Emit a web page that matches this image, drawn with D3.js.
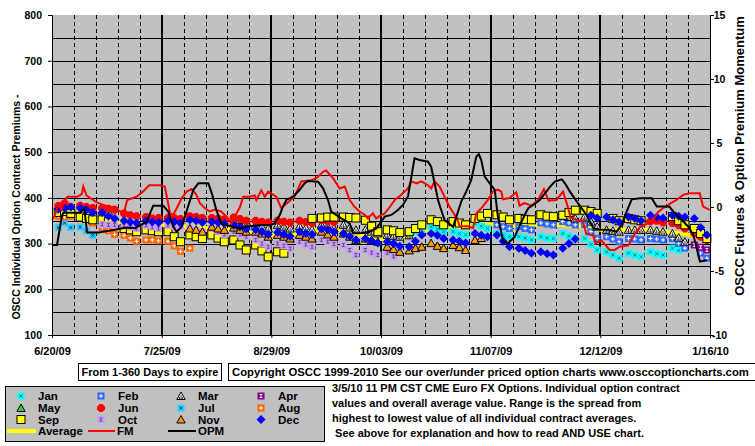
<!DOCTYPE html>
<html><head><meta charset="utf-8">
<script src="https://cdn.jsdelivr.net/npm/d3@7"></script>
<style>
body{margin:0;background:#fff}
svg{display:block}
text{font-family:"Liberation Sans",Arial,sans-serif;font-weight:bold;fill:#000}
</style></head>
<body><svg id="chart" width="755" height="446"></svg>
<script>
const N = null;
// x categories: days since 6/20/09, tick labels every 35 days
const xTickDays = [0, 35, 70, 105, 140, 175, 210];
const xTickLabels = ["6/20/09", "7/25/09", "8/29/09", "10/03/09", "11/07/09", "12/12/09", "1/16/10"];
const leftTicks = [100, 200, 300, 400, 500, 600, 700, 800];
const rightTicks = [-10, -5, 0, 5, 10, 15];
const legendNames = ["Jan", "Feb", "Mar", "Apr", "May", "Jun", "Jul", "Aug", "Sep", "Oct", "Nov", "Dec"];

// contract series: values sampled Mon/Wed/Fri of each week, starting at week index given
const janStart = 16;
const janValues = [318,325,330, 337,332,326, 326,322,319, 344,338,333, 322,318,315, 315,312,308,
  315,312,311, 322,316,311, 311,298,286, 282,275,268, 279,275,271, 282,278,275, 290,285];
const febStart = 20;
const febValues = [341,337,333, 337,333,330, 345,343,341, 348,345,341, 341,326,311, 315,310,304,
  311,310,308, 311,310,308, 311,300,290, N,279,268];
const marStart = 2;
const marValues = [372,370,N, N,N,N, N,N,N, N,N,N, N,N,N, N,N,N,
  355,352,348, 341,337,333, 341,337,333, 338,334,330, 341,337,333, 341,335,330, 330,326,322, 319,317,315, 318,N,N,
  N,N,N, N,N,N, N,N,N, N,N,N, N,N,N, N,N,N,
  362,358,355, 359,348,337, 330,328,326, 330,330,330, 330,328,326, 322,313,304];
const aprStart = 29;
const aprValues = [297,292,286];
const mayStart = 0;
const mayValues = [];
const junStart = 0;
const junValues = [382,388,380, 383,380,378, 378,376,374, 366,362,360, 358,355,356, 356,356,354, 360,358,356,
  356,355,353, 357,354,350, 350,348,346, 350,348,346, 350,347,345, 351,349,347,
  N,N,N, N,N,N, N,N,N, N,N,N, N,N,N, N,N,N, N,N,N, N,N,N, N,N,N, N,N,N, N,N,N, N,N,N, N,N,N,
  352,354,348, 349,350,346, 345,340,333, 322,315,308];
const julStart = 0;
const julValues = [335,345,335, 336,328,318];
const augStart = 0;
const augValues = [360,358,360, 358,352,345, 335,328,320, 318,312,305, 308,308,306, 305,295,283, 290];
const sepStart = 0;
const sepValues = [368,370,366, 358,355,352, 352,348,N, 333,330,326, 330,328,326, 326,315,304, 319,315,311,
  319,312,304, 308,297,286, 297,284,271, 282,279,N, N,N,355, 356,358,358, 358,357,356, 351,338,326,
  330,328,324, 326,333,341, 352,348,341, 348,345,341, 355,360,366, 363,358,352, 355,353,352, 363,360,359,
  362,368,373, 373,370,366, N,355,350, 355,352,350, N,N,N, 359,350,341, 333,322,311];
const octStart = 2;
const octValues = [342,341,341, 340,336,333, 340,336,333, 340,338,337, 333,330,326, 333,326,320, 326,320,315,
  308,300,293, 300,295,289, 304,298,293, 308,304,299, 297,286,275, 286,280,275, 280,272];
const novStart = 6;
const novValues = [333,330,326, 337,333,330, 335,330,326, 326,322,315, 319,315,311, 319,315,311, 326,320,315,
  322,315,308, 311,308,304, 293,288,282, 285,290,293, 301,295,290, 297,292,286, 308,312];
const decStart = 0;
const decValues = [375,378,380, 378,374,368, 368,360,355, 350,347,345, 350,348,346, 350,348,345, 352,350,346,
  348,346,344, 340,336,332, 330,326,320, 324,320,316, 326,322,320, 332,330,326, 322,316,308, 311,306,301,
  304,300,294, 293,305,319, 322,318,311, 308,305,301, 322,318,315, 319,305,293, 290,285,279, 282,278,275,
  290,300,310, N,362,356, 358,352,348, 358,355,350, 362,358,356, 362,360,358, 355,335,319];

// overall average (left axis)
const avgDays = [0,7,14,21,28,35,42,49,56,63,70,77,84,91,98,105,112,119,126,133,140,147,154,161,168,175,182,189,196,203,210];
const avgValues = [370,360,352,346,342,340,337,334,330,324,318,320,330,329,320,310,312,328,334,343,342,338,340,341,338,330,330,330,326,320,310];

// FM momentum (right axis)
const fmDays = [0,1,2,3,4,5,8,9.5,10,11,14,17,19,21,23,24,27,29,31,34.5,36,37.7,38.7,39.8,41.4,43,44.5,46,47.2,48.8,50.4,52,54,55.7,57.3,58.9,60,61,63,64.7,65.2,66.8,67.9,69,71.6,73.2,74.3,77.4,79.6,82.8,84.4,86.5,87.5,89.7,91.8,93.4,95,96.6,98.2,99.8,100.8,102.4,103.5,104.6,106.2,107.8,109.4,111.5,113.6,114.7,116.3,117.9,120,121,122.1,123.7,125.3,126.9,128.5,129.6,130.1,132.8,134.4,135.4,137,139.1,140.7,142.3,143.4,143.9,146,148.2,149.2,150.8,153,155.1,157,158.5,161,163.1,164.1,165.5,167.5,169.5,170.5,172.7,173.5,175.3,178,179.6,181.2,184,185.4,187.5,190,191.8,193.4,195,197.1,199.3,201.4,203.5,206.7,207.8,209.9];
const fmValues = [-1.0,-0.6,0.2,-0.2,0.5,0.8,0.8,1.0,1.6,0.9,0.4,0.1,0.0,-0.3,-0.4,0.55,0.8,1.2,1.7,1.7,1.6,-0.5,-0.6,-0.1,0.7,1.2,1.4,1.0,0.3,-0.1,-0.35,-0.2,-0.35,-0.75,-1.3,-0.5,0.0,0.8,0.8,0.9,0.55,1.3,0.8,1.2,0.8,-0.1,0.15,0.8,2.0,2.1,2.25,2.75,2.85,2.25,1.45,1.6,0.55,0.0,-0.35,-0.6,-0.9,-0.5,-0.9,-0.7,-0.5,0.0,0.55,0.95,1.45,2.0,1.85,2.0,1.7,1.45,2.0,1.6,0.8,0.0,-0.6,-1.15,-1.5,-1.5,-1.65,-0.5,-0.1,0.55,1.2,1.35,1.2,0.6,0.7,1.15,0.1,0.3,0.1,0.55,1.4,0.5,0.55,1.2,0.45,-0.8,-1.0,-1.15,-2.1,-2.2,-2.85,-2.6,-3.35,-3.35,-3.1,-3.0,-2.3,-1.6,-1.3,-1.0,-0.4,-0.1,0.25,0.55,0.95,1.07,1.07,0.03,-0.23];

// OPM momentum (right axis)
const opmDays = [0,1.6,2.6,3.1,3.6,9,10.3,11.2,15,19.6,23.8,26.5,30.2,32.3,35.5,37.1,38.7,39.8,41.4,43.5,45.1,46.7,49.9,51,52.4,54,55.6,59.9,62,66.3,69.5,71,72.7,73.7,74.8,76.9,79,80.6,81.7,84.9,86.5,88.1,89.1,90.7,92.3,93.4,95,96.1,98.2,101.4,103.5,104.6,106.2,108.3,110.4,112,113.6,114.7,115.7,117.3,120,121,122.1,123.2,124.2,125.3,128,130.6,132.2,133.8,135.4,136.2,137,138.1,139.7,141.3,142.3,144,145.5,147.7,149.6,151,152,153.6,155.7,157.3,159,160.5,162.7,163.7,165.3,167.5,170.6,172.8,174.9,178.1,180.2,181.8,183.4,185,187.7,191.4,193,195.1,197,198.8,201,203.1,204.7,206.8,209];
const opmValues = [-2.97,-2.97,-1.54,-0.75,-0.45,-0.45,-0.1,-2.0,-2.0,-1.8,-1.6,-1.65,-1.15,0.1,0.1,-0.36,-1.54,-1.93,-1.54,0.1,1.33,1.85,1.85,1.07,-0.2,-1.28,-1.41,-1.67,-1.54,-1.41,-1.41,-1.3,-0.62,0.03,0.55,0.81,1.33,1.85,2.03,1.98,1.46,0.55,-0.36,-0.62,-0.88,-1.02,-1.28,-2.06,-2.06,-1.93,-1.67,-1.3,-0.75,-0.62,-0.23,0.16,0.81,2.37,3.8,3.67,3.54,3.15,1.85,0.55,-0.23,-1.02,-1.54,0.42,1.2,2.11,3.93,4.14,3.67,2.37,1.85,1.33,-0.75,-2.71,-2.84,-2.32,-1.28,-0.55,-0.1,0.16,0.55,1.07,1.59,1.98,2.16,1.85,1.2,0.42,-0.62,-1.67,-1.75,-1.8,-1.93,-1.41,-0.36,0.6,0.68,0.68,0.03,0.03,0.03,-0.49,-1.02,-1.54,-2.19,-4.27,-4.14];

const svg = d3.select("#chart");
const L = 52, R = 710, T = 15, B = 335;
const x = d3.scaleLinear().domain([0, 210]).range([L, R]);
const y = d3.scaleLinear().domain([100, 800]).range([B, T]);
const yR = d3.scaleLinear().domain([-10, 15]).range([B, T]);

// plot background
svg.append("rect").attr("x", L).attr("y", T).attr("width", R - L).attr("height", B - T).attr("fill", "#C0C0C0");

// horizontal grid every 50
const grid = svg.append("g");
d3.range(150, 800, 50).forEach(v => {
  grid.append("line").attr("x1", L).attr("x2", R).attr("y1", Math.round(y(v)) + 0.5).attr("y2", Math.round(y(v)) + 0.5)
    .attr("stroke", "#000").attr("stroke-width", 1);
});
// vertical weekly dashed + major solid
d3.range(7, 210, 7).forEach(d => {
  const major = d % 35 === 0;
  grid.append("line").attr("x1", Math.round(x(d)) + (major ? 0 : 0.5)).attr("x2", Math.round(x(d)) + (major ? 0 : 0.5))
    .attr("y1", T).attr("y2", B).attr("stroke", "#000")
    .attr("stroke-width", major ? 2 : 1).attr("stroke-dasharray", major ? null : "4,3");
});

// average line
const lineL = d3.line().x(d => x(d[0])).y(d => y(d[1]));
const lineR = d3.line().x(d => x(d[0])).y(d => yR(d[1]));
svg.append("path").attr("d", lineL(avgDays.map((d, i) => [d, avgValues[i]])))
  .attr("fill", "none").attr("stroke", "#FFFF00").attr("stroke-width", 4);

// marker drawing
function marker(g, t, c) {
  if (t === "tri") {
    g.append("path").attr("d", "M0,-4L4.2,3.5L-4.2,3.5Z").attr("fill", c.fill).attr("stroke", "#000").attr("stroke-width", 1);
    if (c.fill === "#FFFFFF") g.append("path").attr("d", "M-1.5,1V3M0,-1V3M1.5,1V3").attr("stroke", "#000").attr("stroke-width", 0.8);
  } else if (t === "dia") {
    g.append("path").attr("d", "M0,-4.5L4.5,0L0,4.5L-4.5,0Z").attr("fill", c.fill);
  } else if (t === "circ") {
    g.append("path").attr("d", "M-1.5,-4H1.5L4,-1.5V1.5L1.5,4H-1.5L-4,1.5V-1.5Z").attr("fill", c.fill);
  } else {
    const h = t === "sq" ? 4 : 3.5;
    g.append("rect").attr("x", -h).attr("y", -h).attr("width", 2 * h).attr("height", 2 * h)
      .attr("fill", c.fill).attr("stroke", c.stroke || "none").attr("stroke-width", 1);
    if (t === "sqx") g.append("path").attr("d", "M-1.5,-1.5L1.5,1.5M1.5,-1.5L-1.5,1.5").attr("stroke", c.mark).attr("stroke-width", 0.9);
    if (t === "sqplus") g.append("path").attr("d", "M-2,0H2M0,-2V2").attr("stroke", c.mark).attr("stroke-width", 1);
    if (t === "sqI") g.append("path").attr("d", "M-1.5,-1.5H1.5M0,-1.5V1.5M-1.5,1.5H1.5").attr("stroke", c.mark).attr("stroke-width", 0.9);
  }
}

const series = [
  {name: "Jan", start: janStart, values: janValues, type: "sqx", fill: "#00FFFF", mark: "#336666"},
  {name: "Feb", start: febStart, values: febValues, type: "sqplus", fill: "#3366FF", mark: "#FFFFFF"},
  {name: "Mar", start: marStart, values: marValues, type: "tri", fill: "#FFFFFF"},
  {name: "Apr", start: aprStart, values: aprValues, type: "sqI", fill: "#800080", mark: "#FFFFFF"},
  {name: "May", start: mayStart, values: mayValues, type: "tri", fill: "#33CC33"},
  {name: "Jun", start: junStart, values: junValues, type: "circ", fill: "#FF0000"},
  {name: "Jul", start: julStart, values: julValues, type: "sqx", fill: "#33CCFF", mark: "#003366"},
  {name: "Aug", start: augStart, values: augValues, type: "sqplus", fill: "#FF6600", mark: "#FFFFFF"},
  {name: "Sep", start: sepStart, values: sepValues, type: "sq", fill: "#FFFF00", stroke: "#000"},
  {name: "Oct", start: octStart, values: octValues, type: "sqI", fill: "#CC99FF", mark: "#555555"},
  {name: "Nov", start: novStart, values: novValues, type: "tri", fill: "#FF9900"},
  {name: "Dec", start: decStart, values: decValues, type: "dia", fill: "#0000FF"}
];

const mk = svg.append("g");
series.forEach(s => {
  s.values.forEach((v, i) => {
    if (v === null) return;
    const week = s.start + Math.floor(i / 3);
    const day = 2 + 7 * week + 2 * (i % 3);
    const g = mk.append("g").attr("transform", `translate(${x(day)},${y(v)})`);
    marker(g, s.type, s);
  });
});

// FM and OPM lines
svg.append("path").attr("d", lineR(fmDays.map((d, i) => [d, fmValues[i]])))
  .attr("fill", "none").attr("stroke", "#FF0000").attr("stroke-width", 2);
svg.append("path").attr("d", lineR(opmDays.map((d, i) => [d, opmValues[i]])))
  .attr("fill", "none").attr("stroke", "#000000").attr("stroke-width", 2);

// axes
const axL = svg.append("g").attr("transform", `translate(${L},0)`)
  .call(d3.axisLeft(y).tickValues(leftTicks).tickSize(4).tickFormat(d3.format("d")));
axL.selectAll("text").attr("x", -10).style("font-size", "10.5px").style("font-family", "'Liberation Sans',Arial,sans-serif");
const axR = svg.append("g").attr("transform", `translate(${R},0)`)
  .call(d3.axisRight(yR).tickValues(rightTicks).tickSize(4).tickFormat(d => d < 0 ? "-" + Math.abs(d) : d));
axR.selectAll("text").attr("x", 9.5).attr("text-anchor", "middle").style("font-size", "10.5px").style("font-family", "'Liberation Sans',Arial,sans-serif");
const axB = svg.append("g").attr("transform", `translate(0,${B})`)
  .call(d3.axisBottom(x).tickValues(xTickDays).tickSize(3).tickFormat((d, i) => xTickLabels[i]));
axB.selectAll("text").attr("y", 19.5).attr("dy", 0).style("font-size", "11px").style("font-family", "'Liberation Sans',Arial,sans-serif");
[axL, axR, axB].forEach(a => {
  a.selectAll("path.domain").attr("stroke", "#000").attr("stroke-width", 1);
  a.selectAll("line").attr("stroke", "#000");
  a.selectAll("text").attr("fill", "#000").style("font-weight", "bold");
});

// axis titles
svg.append("text").attr("transform", "translate(16,207) rotate(-90)").attr("text-anchor", "middle").attr("dy", "0.35em")
  .style("font-size", "10.5px").text("OSCC Individual Option Contract Premiums -");
svg.append("text").attr("transform", "translate(739,156) rotate(-90)").attr("text-anchor", "middle").attr("dy", "0.35em")
  .style("font-size", "13px").text("OSCC Futures & Option Premium Momentum");

// info boxes
svg.append("rect").attr("x", 78.5).attr("y", 363.5).attr("width", 143).attr("height", 17).attr("fill", "#fff").attr("stroke", "#000");
svg.append("text").attr("x", 150).attr("y", 376).attr("text-anchor", "middle").style("font-size", "11px").text("From 1-360 Days to expire");
svg.append("rect").attr("x", 228.5).attr("y", 363.5).attr("width", 540).attr("height", 17).attr("fill", "#fff").attr("stroke", "#000");
svg.append("text").attr("x", 232).attr("y", 376).style("font-size", "11.3px")
  .text("Copyright OSCC 1999-2010 See our over/under priced option charts www.osccoptioncharts.com");

// legend
svg.append("rect").attr("x", 5.5).attr("y", 386.5).attr("width", 319).attr("height", 55).attr("fill", "#C0C0C0").attr("stroke", "#000");
const lg = svg.append("g");
const colX = [21, 101, 181, 261];
const rowY = [396, 408, 419.5, 431];
series.forEach((s, i) => {
  const cx = colX[i % 4], cy = rowY[Math.floor(i / 4)];
  marker(lg.append("g").attr("transform", `translate(${cx},${cy})`), s.type, s);
  lg.append("text").attr("x", cx + 17).attr("y", cy + 4).style("font-size", "11.5px").text(legendNames[i]);
});
const lineLegend = [["Average", "#FFFF00", 4, 7, 36], ["FM", "#FF0000", 2, 88, 115], ["OPM", "#000000", 2, 168, 196]];
lineLegend.forEach(l => {
  lg.append("line").attr("x1", l[3]).attr("x2", l[4]).attr("y1", 431).attr("y2", 431).attr("stroke", l[1]).attr("stroke-width", l[2]);
  lg.append("text").attr("x", l[4] + 2).attr("y", 435).style("font-size", "11.5px").text(l[0]);
});

// description text
const desc = ["3/5/10 11 PM CST CME Euro FX Options. Individual option contract",
  "values and overall average value. Range is the spread from",
  "highest to lowest value of all individual contract averages.",
  " See above for explanation and how to read AND USE chart."];
desc.forEach((t, i) => {
  svg.append("text").attr("x", 332).attr("y", 392 + 15 * i).attr("xml:space", "preserve")
    .style("white-space", "pre").style("font-size", "11px").text(t);
});
</script></body></html>
